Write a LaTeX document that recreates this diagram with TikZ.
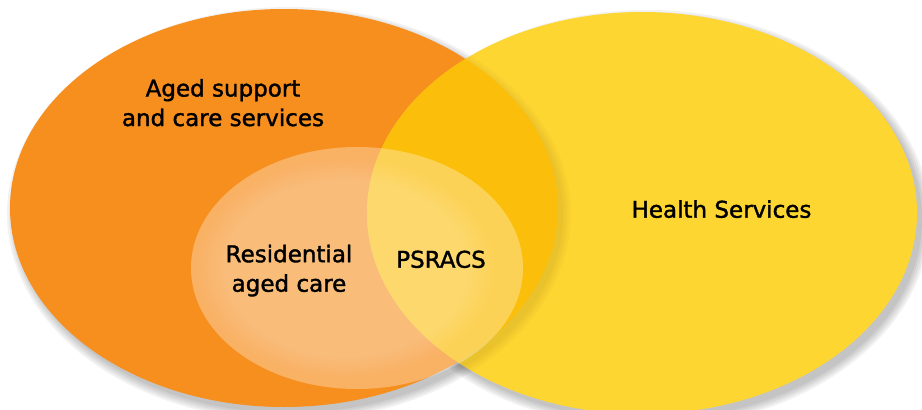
\documentclass[tikz,border=0pt]{standalone}
\usepackage{fontspec}
\setmainfont[FakeBold=1.5]{DejaVu Sans}
\usetikzlibrary{fadings}
\definecolor{agedorange}{RGB}{247,143,31}
\definecolor{healthyellow}{RGB}{254,214,49}
\definecolor{bothgold}{RGB}{251,191,11}
\tikzset{
  lbl/.style={align=center,font=\fontsize{23}{29.5}\selectfont,inner sep=0pt,anchor=base},
  shadelayer/.style={fill=black,fill opacity=#1},
  shadelayer/.default=0.05
}
\begin{document}
\begin{tikzpicture}[x=1pt,y=-1pt]
\useasboundingbox (0,0) rectangle (922,410);
\foreach \d in {0,2,...,8}{
  \fill[shadelayer] (647,219) ellipse [x radius=275+\d, y radius=201+\d];
  \fill[shadelayer] (289,214) ellipse [x radius=274+\d, y radius=199+\d];
}
\fill[agedorange] (284,208) ellipse [x radius=274, y radius=199];
\fill[healthyellow] (642,213) ellipse [x radius=275, y radius=201];
\begin{scope}
  \clip (642,213) ellipse [x radius=275, y radius=201];
  \foreach \d in {0,2,...,8}
    \fill[shadelayer=0.014] (289,214) ellipse [x radius=274+\d, y radius=199+\d];
\end{scope}
\begin{scope}
  \clip (284,208) ellipse [x radius=274, y radius=199];
  \fill[bothgold] (642,213) ellipse [x radius=275, y radius=201];
\end{scope}
\fill[white,fill opacity=0.31] (357,268) ellipse [x radius=166, y radius=121];
\fill[white,fill opacity=0.14,path fading=circle with fuzzy edge 20 percent] (345,268) ellipse [x radius=150, y radius=110];
\node[lbl] (aged) at (223,126) {Aged support\\and care services};
\node[lbl] (resid) at (289,291.7) {Residential\\aged care};
\node[lbl] (psracs) at (441,267.7) {PSRACS};
\node[lbl] (health) at (721.5,217.7) {Health Services};
\end{tikzpicture}
\end{document}
